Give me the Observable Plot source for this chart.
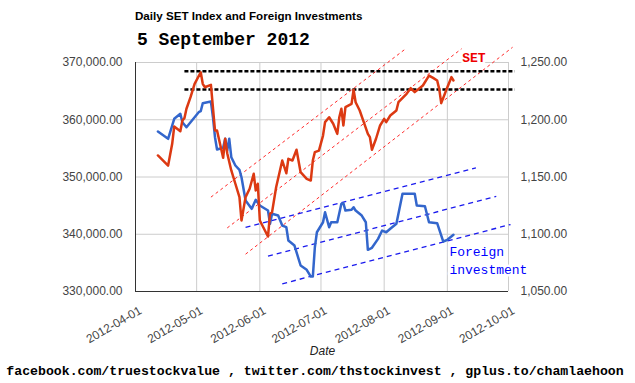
<!DOCTYPE html>
<html><head><meta charset="utf-8">
<script src="https://cdn.jsdelivr.net/npm/d3@7"></script>
<script src="https://cdn.jsdelivr.net/npm/@observablehq/plot@0.6"></script>
<style>
body{margin:0;background:#fff;}
#wrap{position:relative;width:635px;height:383px;overflow:hidden;background:#fff;}
.t{position:absolute;white-space:nowrap;color:#000;}
#title{left:135px;top:9px;font:bold 11.6px "Liberation Sans",Arial,sans-serif;}
#sub{left:137px;top:30px;font:bold 18px "Liberation Mono","Courier New",monospace;}
#xlab{left:0;width:645px;text-align:center;top:344px;font:italic 12px "Liberation Sans",Arial,sans-serif;color:#222;}
#foot{left:0;width:630px;text-align:center;top:364px;font:bold 13.2px "Liberation Mono","Courier New",monospace;}
</style></head><body>
<div id="wrap"><div id="chart"></div>
<div class="t" id="title">Daily SET Index and Foreign Investments</div>
<div class="t" id="sub">5 September 2012</div>
<div class="t" id="xlab">Date</div>
<div class="t" id="foot">facebook.com/truestockvalue , twitter.com/thstockinvest , gplus.to/chamlaehoon</div>
</div>
<script>
// ---- data ----
const fiDates = ["2012-04-12","2012-04-17","2012-04-20","2012-04-23","2012-04-24","2012-04-26","2012-04-28","2012-05-02","2012-05-03","2012-05-04","2012-05-08","2012-05-09","2012-05-10","2012-05-11","2012-05-14","2012-05-15","2012-05-16","2012-05-17","2012-05-18","2012-05-20","2012-05-22","2012-05-23","2012-05-25","2012-05-28","2012-05-30","2012-06-01","2012-06-05","2012-06-06","2012-06-07","2012-06-10","2012-06-12","2012-06-14","2012-06-15","2012-06-18","2012-06-21","2012-06-24","2012-06-26","2012-06-27","2012-06-28","2012-06-29","2012-07-02","2012-07-03","2012-07-05","2012-07-06","2012-07-09","2012-07-11","2012-07-12","2012-07-13","2012-07-16","2012-07-17","2012-07-18","2012-07-21","2012-07-23","2012-07-24","2012-07-26","2012-07-29","2012-07-31","2012-08-02","2012-08-04","2012-08-07","2012-08-10","2012-08-16","2012-08-17","2012-08-21","2012-08-23","2012-08-27","2012-08-30","2012-09-01","2012-09-04"];
const fiValues = [357950,356670,360160,361040,359570,358700,359570,361320,361490,362890,363190,360440,356950,354800,355100,356670,354630,356670,353460,352010,351250,349960,345890,344440,346010,345020,344140,341820,343570,343270,341520,341230,338900,338030,334540,333790,332610,332610,337730,340350,342100,343850,341230,342100,342100,345310,345420,344140,344270,344720,344140,343270,342100,337280,337630,339200,340650,340350,340950,341820,347060,347060,345020,344900,342100,341930,338730,339030,339900];

const setDates = ["2012-04-12","2012-04-17","2012-04-19","2012-04-20","2012-04-23","2012-04-24","2012-04-25","2012-04-26","2012-04-28","2012-04-30","2012-05-03","2012-05-04","2012-05-05","2012-05-08","2012-05-10","2012-05-11","2012-05-14","2012-05-15","2012-05-16","2012-05-18","2012-05-20","2012-05-22","2012-05-23","2012-05-25","2012-05-27","2012-05-29","2012-05-30","2012-05-31","2012-06-01","2012-06-05","2012-06-06","2012-06-07","2012-06-09","2012-06-12","2012-06-14","2012-06-15","2012-06-17","2012-06-19","2012-06-21","2012-06-24","2012-06-26","2012-06-27","2012-06-28","2012-06-30","2012-07-02","2012-07-03","2012-07-05","2012-07-07","2012-07-09","2012-07-10","2012-07-11","2012-07-12","2012-07-13","2012-07-16","2012-07-17","2012-07-18","2012-07-20","2012-07-22","2012-07-24","2012-07-25","2012-07-26","2012-07-28","2012-07-30","2012-08-01","2012-08-02","2012-08-04","2012-08-07","2012-08-08","2012-08-12","2012-08-14","2012-08-16","2012-08-20","2012-08-23","2012-08-25","2012-08-27","2012-08-28","2012-08-29","2012-09-01","2012-09-02","2012-09-03","2012-09-04"];
const setValues = [1168.8,1160.0,1179.0,1194.1,1190.0,1199.3,1201.4,1209.6,1219.7,1231.4,1241.5,1231.4,1228.4,1230.5,1190.6,1190.6,1166.8,1183.4,1170.8,1155.7,1144.1,1132.4,1112.0,1132.4,1139.7,1152.8,1138.2,1144.1,1112.0,1098.0,1117.9,1119.3,1141.1,1164.4,1153.3,1165.9,1164.4,1173.8,1154.2,1148.4,1146.9,1164.4,1171.7,1173.1,1186.2,1197.9,1202.2,1196.5,1187.7,1202.2,1209.6,1195.0,1211.0,1213.9,1226.2,1215.3,1208.1,1197.9,1187.7,1184.8,1173.8,1183.4,1195.0,1200.8,1197.9,1203.7,1208.1,1215.3,1222.7,1227.6,1224.1,1229.9,1238.6,1236.6,1234.3,1227.0,1214.5,1228.4,1232.8,1237.2,1234.3];

// resistance levels (SET)
const setLevels = [1242.4, 1226.4];
const levelFrom = "2012-04-25", levelTo = "2012-10-04";
// SET trend channel
const setTrendFrom = ["2012-05-08","2012-05-16","2012-05-25"];
const setTrendFromVal = [1132.4,1105.5,1082.6];
const setTrendTo = ["2012-08-12","2012-09-08","2012-10-03"];
const setTrendToVal = [1262.6,1262.0,1263.3];
// Foreign investment trend channel
const fiTrendFrom = ["2012-05-25","2012-06-05","2012-06-12"];
const fiTrendFromVal = [341190,336180,331350];
const fiTrendTo = ["2012-09-15","2012-09-25","2012-10-02"];
const fiTrendToVal = [351610,346630,341700];

// axes
const xDomain = ["2012-04-01","2012-10-01"];
const leftTicks = [330000,340000,350000,360000,370000];
const rightTicks = [1050,1100,1150,1200,1250];
const monthTicks = ["2012-04-01","2012-05-01","2012-06-01","2012-07-01","2012-08-01","2012-09-01","2012-10-01"];

// annotations
const setLabel = {text:"SET", date:"2012-09-14", value:1254.5};
const fiLabel = {text:"Foreign\ninvestment", date:"2012-09-02", value:335590};

// ---- build ----
const D = s => new Date(s + "T00:00:00Z");
// map SET (right axis) to left-axis units
const sLo = rightTicks[0], sHi = rightTicks[rightTicks.length-1];
const lLo = leftTicks[0], lHi = leftTicks[leftTicks.length-1];
const fromSet = v => lLo + (v - sLo) * (lHi - lLo) / (sHi - sLo);
const toSet = v => sLo + (v - lLo) * (sHi - sLo) / (lHi - lLo);
const fmt2 = d3.format(",.2f");

const fi = fiDates.map((d,i)=>({date:D(d), v:fiValues[i]}));
const set = setDates.map((d,i)=>({date:D(d), v:fromSet(setValues[i])}));
const levels = setLevels.map(v=>({x1:D(levelFrom), x2:D(levelTo), y:fromSet(v)}));
const setTrend = setTrendFrom.map((d,i)=>({x1:D(d), y1:fromSet(setTrendFromVal[i]), x2:D(setTrendTo[i]), y2:fromSet(setTrendToVal[i])}));
const fiTrend = fiTrendFrom.map((d,i)=>({x1:D(d), y1:fiTrendFromVal[i], x2:D(fiTrendTo[i]), y2:fiTrendToVal[i]}));
const mt = monthTicks.map(D);

const chart = Plot.plot({
  width: 635, height: 383,
  marginLeft: 135, marginRight: 127, marginTop: 62, marginBottom: 92,
  style: {fontFamily: '"Liberation Sans", Arial, sans-serif', fontSize: "12px", background: "white", overflow: "visible"},
  x: {type: "utc", domain: xDomain.map(D)},
  y: {domain: [lLo, lHi]},
  marks: [
    Plot.gridX(mt, {stroke: "#cccccc", strokeOpacity: 1}),
    Plot.gridY(leftTicks, {stroke: "#cccccc", strokeOpacity: 1}),
    Plot.axisX(mt, {tickSize: 0, tickPadding: 6, dx: 5, dy: 12, tickRotate: -30, tickFormat: d3.utcFormat("%Y-%m-%d"), fill: "#444", label: null}),
    Plot.axisY(leftTicks, {anchor: "left", tickSize: 0, tickPadding: 13, tickFormat: fmt2, fill: "#444", label: null}),
    Plot.axisY(rightTicks.map(fromSet), {anchor: "right", tickSize: 0, tickPadding: 12, tickFormat: v => fmt2(toSet(v)), fill: "#444", label: null}),
    Plot.ruleX([D(xDomain[0])], {stroke: "#333"}),
    Plot.ruleY([lLo], {stroke: "#333"}),
    Plot.link(setTrend, {x1:"x1", y1:"y1", x2:"x2", y2:"y2", stroke: "#ff2a2a", strokeWidth: 1, strokeDasharray: "3,3"}),
    Plot.link(fiTrend, {x1:"x1", y1:"y1", x2:"x2", y2:"y2", stroke: "#1a1aee", strokeWidth: 1.3, strokeDasharray: "5,4"}),
    Plot.link(levels, {x1:"x1", y1:"y", x2:"x2", y2:"y", stroke: "#000", strokeWidth: 2.5, strokeDasharray: "4,2"}),
    Plot.line(fi, {x:"date", y:"v", stroke: "#3366cc", strokeWidth: 2.5}),
    Plot.line(set, {x:"date", y:"v", stroke: "#dc3912", strokeWidth: 2.5}),
    Plot.text([setLabel], {x: d=>D(d.date), y: d=>fromSet(d.value), text: "text", fill: "#ee0000", stroke: "white", strokeWidth: 5, fontSize: 13, fontWeight: "bold", fontFamily: '"Liberation Mono", monospace'}),
    Plot.text([fiLabel], {x: d=>D(d.date), y: d=>d.value, text: "text", textAnchor: "start", lineHeight: 1.4, fill: "#0000ff", stroke: "white", strokeWidth: 5, fontSize: 13, fontWeight: "normal", fontFamily: '"Liberation Mono", monospace'})
  ]
});
document.getElementById("chart").appendChild(chart);
</script>
</body></html>
